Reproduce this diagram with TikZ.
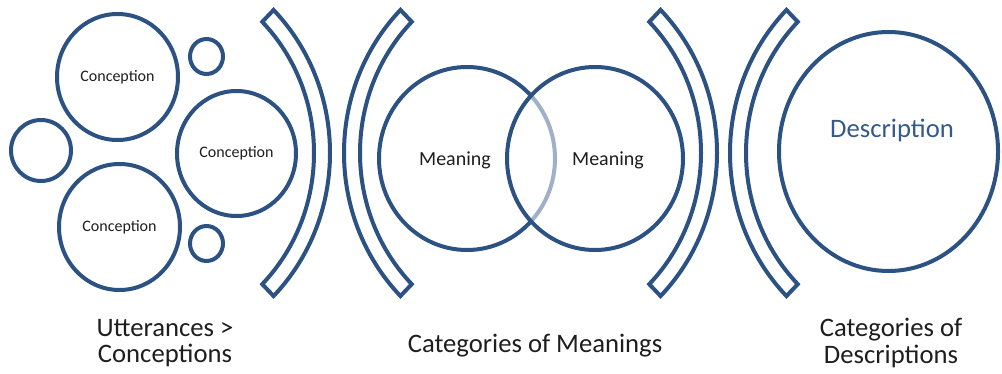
\documentclass[tikz,border=0pt]{standalone}
\usepackage{fontspec}
\setmainfont{Carlito}
\usepackage{xcolor}
\usetikzlibrary{shapes.geometric, calc}
\definecolor{ringblue}{HTML}{2C5283}
\definecolor{descblue}{HTML}{34598C}
\definecolor{inkgrey}{HTML}{1E1E1E}

\tikzset{
  ring/.style 2 args={ellipse, draw=ringblue, line width=3pt, inner sep=0pt,
    minimum width=#1, minimum height=#2},
  bar/.style={draw=ringblue, line width=3pt},
  caption/.style={text=inkgrey, align=center, font=\fontsize{20pt}{20pt}\selectfont}
}

% curved bar: #1 centre x, #2 start angle, #3 end angle
\newcommand{\bendbar}[3]{%
  \draw[bar] (#1,153) ++(#2:176.7 and 185.5)
    arc[start angle=#2, end angle=#3, x radius=176.7, y radius=185.5]
    -- ($(#1,153)+(#3:192.7 and 202.3)$)
    arc[start angle=#3, end angle=#2, x radius=192.7, y radius=202.3] -- cycle;}

\begin{document}
\begin{tikzpicture}[x=0.75pt, y=-0.75pt]
  \useasboundingbox (0,0) rectangle (1002,374);

  % utterances and conceptions
  \node[ring={90.75pt}{94.5pt}, text=inkgrey, font=\fontsize{12pt}{14pt}\selectfont]
    (concA) at (117.5,77) {Conception};
  \node[ring={89.25pt}{93.75pt}, text=inkgrey, font=\fontsize{12pt}{14pt}\selectfont]
    (concB) at (236.5,153.5) {Conception};
  \node[ring={90.75pt}{94.5pt}, text=inkgrey, font=\fontsize{12pt}{14pt}\selectfont]
    (concC) at (119.5,227) {Conception};
  \node[ring={45pt}{45.75pt}] (uttL) at (41,150.5) {};
  \node[ring={24.75pt}{26.25pt}] (uttT) at (206.5,56.5) {};
  \node[ring={24.75pt}{26.25pt}] (uttB) at (206.5,243.5) {};

  \bendbar{137.3}{45}{-45}
  \bendbar{536.7}{135}{225}

  % meanings
  \node[ring={132pt}{137.25pt}] (meanL) at (467,158.5) {};
  \node[ring={132pt}{137.25pt}, fill=white, fill opacity=0.55, draw opacity=1]
    (meanR) at (595,158.5) {};
  \node[text=inkgrey, font=\fontsize{15pt}{17pt}\selectfont] (meanLtxt) at (455,160) {Meaning};
  \node[text=inkgrey, font=\fontsize{15pt}{17pt}\selectfont] (meanRtxt) at (608,160) {Meaning};

  \bendbar{524.3}{45}{-45}
  \bendbar{922.7}{135}{225}

  % description
  \node[ring={164.25pt}{179.25pt}] (desc) at (888.5,151.5) {};
  \node[text=descblue, font=\fontsize{20pt}{24pt}\selectfont] (desctxt) at (892,130) {Description};

  % captions
  \node[caption] (capA) at (165,343) {Utterances >\\Conceptions};
  \node[caption, anchor=base] (capB) at (535,352) {Categories of Meanings};
  \node[caption] (capC) at (891,343) {Categories of\\Descriptions};
\end{tikzpicture}
\end{document}
